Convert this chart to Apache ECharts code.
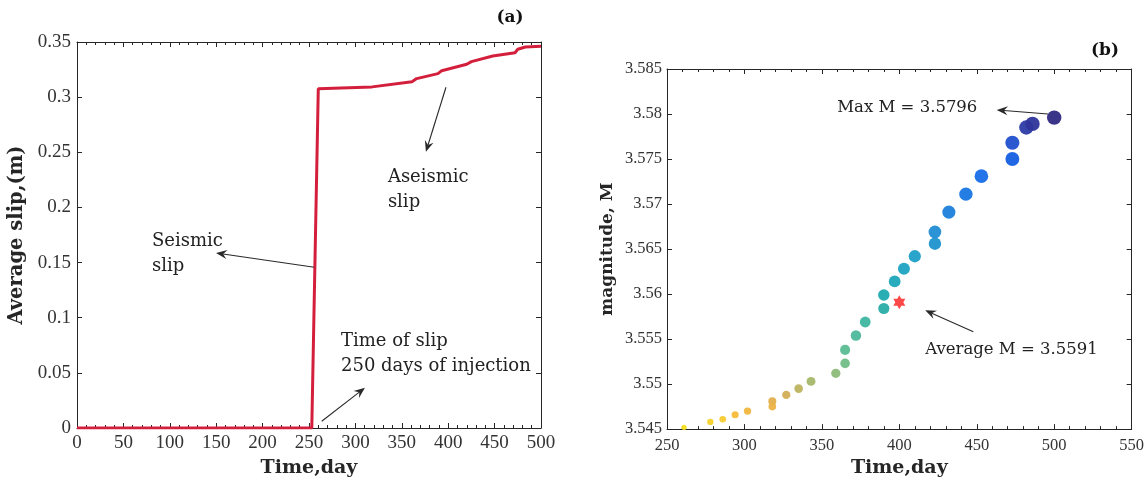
<!DOCTYPE html>
<html>
<head>
<meta charset="utf-8">
<script src="https://cdn.jsdelivr.net/npm/echarts@6/dist/echarts.min.js"></script>
<style>
html,body{margin:0;padding:0;background:#fff;}
#c{width:1147px;height:483px;}
</style>
</head>
<body>
<div id="c"></div>
<script>
// ---------- data ----------
const slipDays   = [0, 253, 260, 318, 361, 366, 389, 393, 420, 425, 448, 472, 475, 483, 500];
const slipValues = [0, 0, 0.3075, 0.3093, 0.314, 0.3168, 0.3213, 0.324, 0.3298, 0.3322, 0.3373, 0.3403, 0.3434, 0.3455, 0.3462];

const magDays   = [261, 278, 286, 294, 302, 318, 318, 327, 335, 343, 359, 365, 365, 372, 378, 390, 390, 397, 403, 410, 423, 423, 432, 443, 453, 473, 473, 482, 486, 500];
const magValues = [3.5452, 3.5458, 3.5461, 3.5466, 3.5470, 3.5481, 3.5475, 3.5488, 3.5495, 3.5503, 3.5512, 3.5523, 3.5538, 3.5554, 3.5569, 3.5584, 3.5599, 3.5614, 3.5628, 3.5642, 3.5656, 3.5669, 3.5691, 3.5711, 3.5731, 3.5750, 3.5768, 3.5785, 3.5789, 3.5796];

const avgPoint = [400, 3.5591];

const slipXRange = [0, 500, 50];
const slipYRange = [0, 0.35, 0.05];
const magXRange  = [250, 550, 50];
const magYRange  = [3.545, 3.585, 0.005];

const panelLabels = ['(a)', '(b)'];
const axisTitles = { slipY: 'Average slip,(m)', slipX: 'Time,day', magY: 'magnitude, M', magX: 'Time,day' };

// annotations: [text, anchor data point, align]
const slipNotes = [
  ['Seismic\nslip', [80.8, 0.181], 'left'],
  ['Aseismic\nslip', [335, 0.2388], 'left'],
  ['Time of slip\n250 days of injection', [284.5, 0.090], 'left']
];
const slipArrows = [
  [[255.7, 0.1458], [149.8, 0.1587]],
  [[397.6, 0.309], [376, 0.2504]],
  [[263.7, 0.0061], [310.3, 0.0365]]
];
const magNotes = [
  ['Max M = 3.5796', [450.4, 3.5807], 'right'],
  ['Average M = 3.5591', [416.7, 3.5538], 'left']
];
const magArrows = [
  [[496, 3.5800], [462.9, 3.58045]],
  [[447.8, 3.5558], [416.7, 3.5582]]
];

// ---------- style ----------
const TFONT = 'DejaVu Serif';      // text / titles
const NFONT = 'Liberation Serif';  // tick numbers
const INK = '#262626';
const colorStops = ['#f8e81c','#f5b83a','#dcac52','#a8b868','#78be84','#5cbc90','#4cb89a','#3cb6a2','#22aaa8','#1caab4','#1ca4c0','#20a0c8','#2092d0','#208ad6','#1c80dc','#1876e2','#1870e8','#1262e8','#1c56d8','#2c44b8','#302880'];

function fmt(v){ return String(parseFloat(Number(v).toFixed(4))); }

function mkAxis(range, opts, labelSize, margin){
  return Object.assign({
    type: 'value', min: range[0], max: range[1], interval: range[2],
    axisLine: { show: true, onZero: false, lineStyle: { color: INK, width: 1 } },
    axisTick: { show: true, inside: true, length: 5, lineStyle: { color: INK } },
    splitLine: { show: false },
    axisLabel: { show: labelSize > 0, color: '#333', fontFamily: NFONT, fontSize: labelSize || 12, margin: margin || 6, formatter: fmt }
  }, opts);
}
const nameStyle = (size) => ({ fontFamily: TFONT, fontWeight: 'bold', fontSize: size, color: INK });
const minor = { show: true, splitNumber: 5, length: 3, lineStyle: { color: INK } };

const chart = echarts.init(document.getElementById('c'), null, { renderer: 'canvas' });

const option = {
  animation: false,
  backgroundColor: '#fff',
  grid: [
    { left: 77, top: 42, width: 464, height: 387 },
    { left: 667, top: 69, width: 465, height: 364 }
  ],
  xAxis: [
    mkAxis(slipXRange, { gridIndex: 0, position: 'bottom', minorTick: minor,
      name: axisTitles.slipX, nameLocation: 'middle', nameGap: 31, nameTextStyle: nameStyle(19) }, 19, 6),
    mkAxis(slipXRange, { gridIndex: 0, position: 'top', minorTick: minor }, 0),
    mkAxis(magXRange, { gridIndex: 1, position: 'bottom', minorTick: minor,
      name: axisTitles.magX, nameLocation: 'middle', nameGap: 25, nameTextStyle: nameStyle(19) }, 16.5, 8),
    mkAxis(magXRange, { gridIndex: 1, position: 'top', minorTick: minor }, 0)
  ],
  yAxis: [
    mkAxis(slipYRange, { gridIndex: 0, position: 'left',
      name: axisTitles.slipY, nameLocation: 'middle', nameGap: 50, nameRotate: 90, nameTextStyle: nameStyle(19.5) }, 19, 6),
    mkAxis(slipYRange, { gridIndex: 0, position: 'right' }, 0),
    mkAxis(magYRange, { gridIndex: 1, position: 'left',
      name: axisTitles.magY, nameLocation: 'middle', nameGap: 51, nameRotate: 90, nameTextStyle: nameStyle(17) }, 16.5, 5),
    mkAxis(magYRange, { gridIndex: 1, position: 'right' }, 0)
  ],
  visualMap: [{
    show: false, type: 'continuous', seriesIndex: 1, dimension: 1,
    min: magYRange[0], max: 3.5797,
    inRange: { color: colorStops }
  }],
  series: [
    {
      type: 'line', xAxisIndex: 0, yAxisIndex: 0, showSymbol: false, symbol: 'none',
      data: slipDays.map((d, i) => [d, slipValues[i]]),
      lineStyle: { color: '#d41f3c', width: 3 }, z: 3
    },
    {
      type: 'scatter', xAxisIndex: 2, yAxisIndex: 2,
      data: magDays.map((d, i) => [d, magValues[i]]),
      symbolSize: function (v) {
        const t = Math.max(0, (v[1] - magYRange[0]) / 0.035);
        return 4 + 10.5 * Math.pow(t, 0.4);
      },
      itemStyle: { opacity: 0.95 }
    },
    {
      type: 'scatter', xAxisIndex: 2, yAxisIndex: 2,
      data: [avgPoint],
      symbol: 'path://M0,-10 L2.887,-5 L8.66,-5 L5.774,0 L8.66,5 L2.887,5 L0,10 L-2.887,5 L-8.66,5 L-5.774,0 L-8.66,-5 L-2.887,-5 Z',
      symbolSize: [12, 14],
      itemStyle: { color: '#ff1a1a' }, z: 5
    }
  ]
};
chart.setOption(option);

// ---------- annotations ----------
function arrow(p1, p2, color) {
  const dx = p2[0] - p1[0], dy = p2[1] - p1[1];
  const L = Math.hypot(dx, dy) || 1;
  const ux = dx / L, uy = dy / L, nx = -uy, ny = ux;
  const len = 11, w = 4.5;
  const b = [p2[0] - ux * len, p2[1] - uy * len];
  const notch = [p2[0] - ux * len * 0.65, p2[1] - uy * len * 0.65];
  return [
    { type: 'line', shape: { x1: p1[0], y1: p1[1], x2: notch[0], y2: notch[1] }, style: { stroke: color, lineWidth: 1.1 }, z: 20 },
    { type: 'polygon', shape: { points: [p2, [b[0] + nx * w, b[1] + ny * w], notch, [b[0] - nx * w, b[1] - ny * w]] }, style: { fill: color }, z: 20 }
  ];
}
const gfx = [];
const toPx = (g, p) => chart.convertToPixel({ gridIndex: g }, p);
slipArrows.forEach(a => gfx.push(...arrow(toPx(0, a[0]), toPx(0, a[1]), '#2a2a2a')));
magArrows.forEach(a => gfx.push(...arrow(toPx(1, a[0]), toPx(1, a[1]), '#2a2a2a')));
slipNotes.forEach(n => {
  const p = toPx(0, n[1]);
  gfx.push({ type: 'text', x: p[0], y: p[1], z: 20,
    style: { text: n[0], fill: '#222', font: '18px "' + TFONT + '"', lineHeight: 25, textAlign: n[2], textVerticalAlign: 'top' } });
});
magNotes.forEach(n => {
  const p = toPx(1, n[1]);
  gfx.push({ type: 'text', x: p[0], y: p[1], z: 20,
    style: { text: n[0], fill: '#222', font: '16.5px "' + TFONT + '"', textAlign: n[2], textVerticalAlign: 'middle' } });
});
gfx.push({ type: 'text', x: 510, y: 18, style: { text: panelLabels[0], fill: '#111', font: 'bold 17px "' + TFONT + '"', textAlign: 'center', textVerticalAlign: 'middle' } });
gfx.push({ type: 'text', x: 1105, y: 51, style: { text: panelLabels[1], fill: '#111', font: 'bold 17px "' + TFONT + '"', textAlign: 'center', textVerticalAlign: 'middle' } });
chart.setOption({ graphic: { elements: gfx } });
</script>
</body>
</html>
